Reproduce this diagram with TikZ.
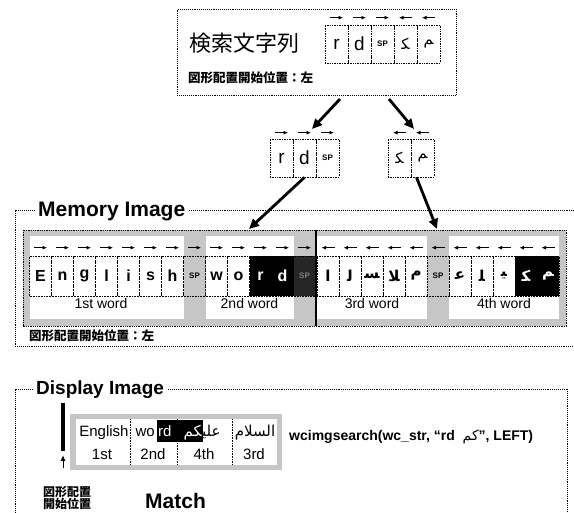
\documentclass[tikz,border=0pt]{standalone}
\usepackage{fontspec}
\setmainfont{Liberation Sans}
\newfontfamily\jpfont{Noto Sans CJK JP}
\newfontfamily\arabicfont[Script=Arabic]{DejaVu Sans}
\TeXXeTstate=1
\usetikzlibrary{arrows.meta,positioning,calc}
\newcommand{\spmark}{{\bfseries\fontsize{8}{8}\selectfont SP}}
\newcommand{\arch}[1]{{\arabicfont\fontsize{15}{15}\selectfont #1}}
\tikzset{
  frameln/.style={densely dotted, line width=0.9pt},
  cellbox/.style={draw, densely dotted, line width=0.6pt, minimum width=22pt, minimum height=40pt,
    inner sep=0pt, font=\bfseries\fontsize{16}{16}\selectfont},
  bigcell/.style={draw, densely dotted, line width=0.7pt, minimum width=23pt, minimum height=38pt,
    inner sep=0pt, font=\fontsize{19}{19}\selectfont},
  normcell/.style={},
  hitcell/.style={fill=black, text=white},
  hitsp/.style={fill=black!85, text=gray},
  spcell/.style={fill=gray!45},
  dirarr/.style={-{Latex[length=4.5pt,width=4pt]}, line width=0.8pt},
  thickarr/.style={-{Triangle[length=10pt,width=9pt]}, line width=2.8pt},
  shade/.style={fill=gray!45},
  titlelbl/.style={font=\bfseries\fontsize{19}{22}\selectfont, fill=white, inner sep=3pt},
  wordlbl/.style={font=\fontsize{14}{14}\selectfont, inner sep=0pt},
  displbl/.style={font=\fontsize{15}{15}\selectfont, inner sep=0pt},
  jpnote/.style={font=\jpfont\bfseries\fontsize{12.5}{12.5}\selectfont, inner sep=0pt},
}

\begin{document}
\begin{tikzpicture}[x=1pt, y=-1pt]
  \useasboundingbox (0,0) rectangle (574,513);

  % search string
  \node[draw, frameln, minimum width=279pt, minimum height=86pt, anchor=north west] (qbox) at (177,9) {};
  \node[font=\jpfont\fontsize{22}{22}\selectfont, anchor=west, inner sep=0pt] (qtext) at (189,43) {検索文字列};
  \node[jpnote, anchor=base west] (qnote) at (188,83) {図形配置開始位置：左};
  \foreach \ch/\d [count=\i] in {r/1, d/1, \spmark/1, {\arch{ﻜ}}/-1, {\arch{ﻢ}}/-1} {
    \node[bigcell] (q\i) at ({325+23*\i-11.5},44) {\ch};
    \draw[dirarr] ($(q\i.north)+(-6.5*\d,-7)$) -- ++(13*\d,0);
  }

  % split parts
  \coordinate (qL) at (340,99);
  \coordinate (qR) at (389,99);
  \coordinate (mL) at (312,129);
  \coordinate (mR) at (414,129);
  \draw[thickarr] (qL) -- (mL);
  \draw[thickarr] (qR) -- (mR);
  \foreach \ch [count=\i] in {r, d, \spmark} {
    \node[bigcell] (ml\i) at ({270+23*\i-11.5},158) {\ch};
    \draw[dirarr] ($(ml\i.north)+(-6.5,-6)$) -- ++(13,0);
  }
  \foreach \ch [count=\i] in {{\arch{ﻜ}}, {\arch{ﻢ}}} {
    \node[bigcell] (mr\i) at ({388+23*\i-11.5},158) {\ch};
    \draw[dirarr] ($(mr\i.north)+(6.5,-6)$) -- ++(-13,0);
  }

  % memory image
  \draw[frameln] (574,210) -- (15,210) -- (15,346) -- (574,346);
  \node[titlelbl, font=\bfseries\fontsize{21}{22}\selectfont, anchor=base west] (memtitle) at (35,217) {Memory Image};
  \draw[densely dotted, line width=0.8pt, shade] (23,230) rectangle (566,326);
  \fill[white] (29.5,236) rectangle (183.5,319);
  \fill[white] (205.5,236) rectangle (293.5,319);
  \fill[white] (317,236) rectangle (427,319);
  \fill[white] (449,236) rectangle (559,319);
  \foreach \ch/\st [count=\i from 0] in {E/normcell, n/normcell, g/normcell, l/normcell, i/normcell,
      s/normcell, h/normcell, \spmark/spcell, w/normcell, o/normcell, r/hitcell, d/hitcell, \spmark/hitsp} {
    \node[cellbox, \st] (a\i) at ({29.5+22*\i+11},276) {\ch};
    \draw[dirarr] ($(a\i.north)+(-6.5,-8)$) -- ++(13,0);
  }
  \foreach \ch/\st [count=\i from 0] in {{\arch{ﺍ}}/normcell, {\arch{ﻟ}}/normcell, {\arch{ﺴ}}/normcell,
      {\arch{ﻼ}}/normcell, {\arch{ﻡ}}/normcell, \spmark/spcell, {\arch{ﻋ}}/normcell, {\arch{ﻠ}}/normcell,
      {\arch{ﻴ}}/normcell, {\arch{ﻜ}}/hitcell, {\arch{ﻢ}}/hitcell} {
    \node[cellbox, \st] (b\i) at ({317+22*\i+11},276) {\ch};
    \draw[dirarr] ($(b\i.north)+(6.5,-8)$) -- ++(-13,0);
  }
  \draw[line width=2pt] (316.2,230) -- (316.2,326);
  \node[wordlbl, anchor=base] (w1) at (101,309) {1st word};
  \node[wordlbl, anchor=base] (w2) at (249.5,309) {2nd word};
  \node[wordlbl, anchor=base] (w3) at (372,309) {3rd word};
  \node[wordlbl, anchor=base] (w4) at (504,309) {4th word};
  \node[jpnote, anchor=base west] (memnote) at (29,341) {図形配置開始位置：左};

  % where the parts are found
  \coordinate (hitL) at (249,229);
  \coordinate (hitR) at (437,229);
  \draw[thickarr] (ml2.south) -- (hitL);
  \draw[thickarr] ($(mr2.south)+(-6,0)$) -- (hitR);

  % display image
  \draw[frameln] (15,513) -- (15,389) -- (567,389) -- (567,513);
  \node[titlelbl, anchor=base west] (distitle) at (33,395) {Display Image};
  \fill[gray!45] (70,414) rectangle (282,470);
  \fill[white] (76,419) rectangle (277,465);
  \foreach \x in {130,177,232}
    \draw[densely dotted, line width=0.6pt] (\x,419) -- (\x,465);
  \fill[black] (157,420) rectangle (203,442);
  \node[displbl, anchor=base] (d1) at (104,437) {English};
  \node[displbl, anchor=base east] (d2a) at (155,437) {wo};
  \node[displbl, anchor=base west, text=white] (d2b) at (158,437) {rd};
  \node[displbl, anchor=base east, text=white] (d3a) at (202,437)
    {\arabicfont\beginR ^^^^200dكم\endR};
  \node[displbl, anchor=base west] (d3b) at (d3a.base east) {\arabicfont\beginR علي^^^^200d\endR};
  \node[displbl, anchor=base] (d4) at (255,437) {\arabicfont\beginR السلام\endR};
  \node[displbl, anchor=base] (n1) at (102,460) {1st};
  \node[displbl, anchor=base] (n2) at (153,460) {2nd};
  \node[displbl, anchor=base] (n4) at (204,460) {4th};
  \node[displbl, anchor=base] (n3) at (254,460) {3rd};
  \draw[line width=4pt] (63,403) -- (63,451);
  \coordinate (startpt) at (63,468);
  \coordinate (startarr) at (63,455);
  \draw[-{Latex[length=6pt,width=5pt]}, line width=1pt] (startpt) -- (startarr);
  \node[font=\jpfont\bfseries\fontsize{12}{12.5}\selectfont, align=left, anchor=north west, inner sep=0pt]
    (startlbl) at (43,486) {図形配置\\開始位置};
  \node[font=\bfseries\fontsize{21}{21}\selectfont, anchor=base west, inner sep=0pt] (match) at (145,509) {Match};
  \node[font=\bfseries\fontsize{14}{14}\selectfont, anchor=base west, inner sep=0pt] (call) at (289,441)
    {wcimgsearch(wc\_str, ``rd \ {\arabicfont\mdseries\beginR كم\endR}'', LEFT)};
\end{tikzpicture}
\end{document}
